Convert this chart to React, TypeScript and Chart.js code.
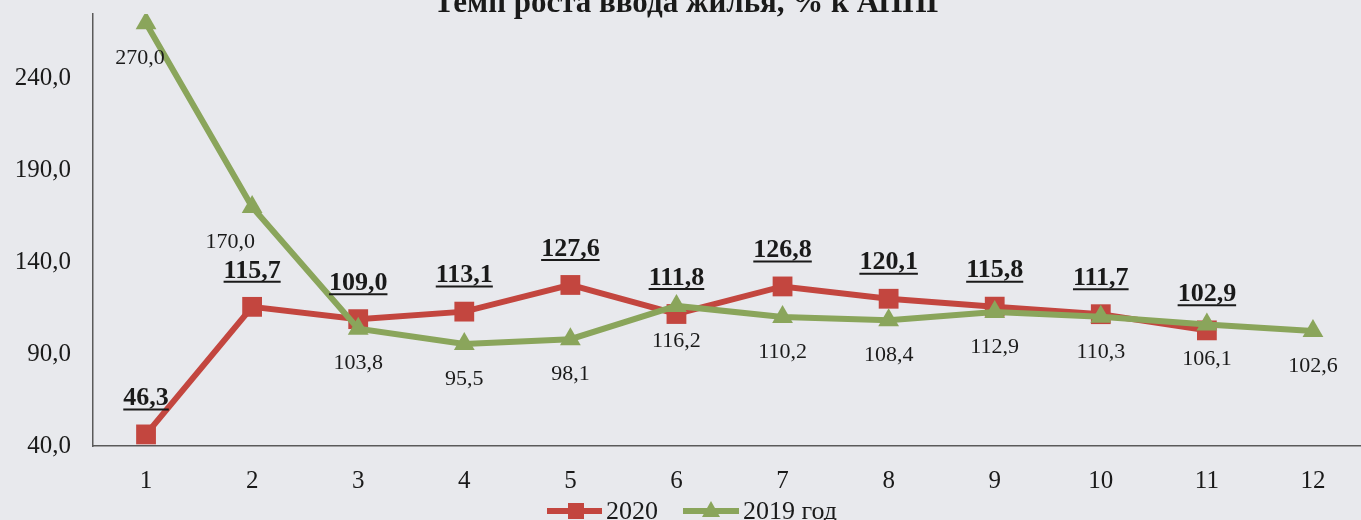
import React, { useEffect, useRef } from "react";
import { Chart, registerables } from "chart.js";

Chart.register(...registerables);

const titleText = "Темп роста ввода жилья, % к АППГ";
const categories = ["1", "2", "3", "4", "5", "6", "7", "8", "9", "10", "11", "12"];
const series2020Label = "2020";
const series2019Label = "2019 год";
const values2020: (number | null)[] = [46.3, 115.7, 109.0, 113.1, 127.6, 111.8, 126.8, 120.1, 115.8, 111.7, 102.9, null];
const values2019: number[] = [270.0, 170.0, 103.8, 95.5, 98.1, 116.2, 110.2, 108.4, 112.9, 110.3, 106.1, 102.6];
const yTicks = [40, 90, 140, 190, 240];

const RED = "#C3463F";
const GREEN = "#8AA55B";
const BG = "#E8E9ED";
const SERIF = '"Liberation Serif", "Times New Roman", serif';

const fmt = (v: number) => v.toFixed(1).replace(".", ",");

const bgPlugin = {
  id: "bgPlugin",
  beforeDraw(chart: any) {
    const ctx = chart.ctx;
    ctx.save();
    ctx.fillStyle = BG;
    ctx.fillRect(0, 0, chart.width, chart.height);
    ctx.restore();
  },
};

const titlePlugin = {
  id: "titlePlugin",
  afterDraw(chart: any) {
    const ctx = chart.ctx;
    ctx.save();
    ctx.font = `bold 31px ${SERIF}`;
    ctx.fillStyle = "#1a1a1a";
    ctx.textAlign = "center";
    ctx.textBaseline = "alphabetic";
    ctx.fillText(titleText, 690, 12);
    ctx.restore();
  },
};

const labelPlugin = {
  id: "labelPlugin",
  afterDatasetsDraw(chart: any) {
    const ctx = chart.ctx;
    ctx.save();
    const m0 = chart.getDatasetMeta(0);
    ctx.font = `bold 26px ${SERIF}`;
    ctx.fillStyle = "#1a1a1a";
    ctx.strokeStyle = "#1a1a1a";
    ctx.textAlign = "center";
    ctx.textBaseline = "middle";
    m0.data.forEach((pt: any, i: number) => {
      const v = values2020[i];
      if (v == null) return;
      const x = pt.x;
      const y = pt.y - 36;
      const t = fmt(v);
      ctx.fillText(t, x, y);
      const w = ctx.measureText(t).width;
      ctx.lineWidth = 2;
      ctx.beginPath();
      ctx.moveTo(x - w / 2, y + 11);
      ctx.lineTo(x + w / 2, y + 11);
      ctx.stroke();
    });
    const m1 = chart.getDatasetMeta(1);
    ctx.font = `22px ${SERIF}`;
    m1.data.forEach((pt: any, i: number) => {
      const v = values2019[i];
      const dx = i === 0 ? -6 : i === 1 ? -22 : 0;
      ctx.fillText(fmt(v), pt.x + dx, pt.y + 35);
    });
    ctx.restore();
  },
};

const legendPlugin = {
  id: "legendPlugin",
  afterDraw(chart: any) {
    const ctx = chart.ctx;
    const y = 511;
    ctx.save();
    ctx.strokeStyle = RED;
    ctx.lineWidth = 6;
    ctx.beginPath();
    ctx.moveTo(547, y);
    ctx.lineTo(602, y);
    ctx.stroke();
    ctx.fillStyle = RED;
    ctx.fillRect(576 - 8, y - 8, 16, 16);
    ctx.strokeStyle = GREEN;
    ctx.beginPath();
    ctx.moveTo(683, y);
    ctx.lineTo(739, y);
    ctx.stroke();
    ctx.fillStyle = GREEN;
    ctx.beginPath();
    ctx.moveTo(711, y - 10);
    ctx.lineTo(720, y + 6);
    ctx.lineTo(702, y + 6);
    ctx.closePath();
    ctx.fill();
    ctx.font = `26px ${SERIF}`;
    ctx.fillStyle = "#1a1a1a";
    ctx.textAlign = "left";
    ctx.textBaseline = "middle";
    ctx.fillText(series2020Label, 606, y + 1);
    ctx.fillText(series2019Label, 743, y + 1);
    ctx.restore();
  },
};

export default function App() {
  const ref = useRef<HTMLCanvasElement | null>(null);
  useEffect(() => {
    if (!ref.current) return;
    const chart = new Chart(ref.current, {
      type: "line",
      data: {
        labels: categories,
        datasets: [
          {
            label: series2020Label,
            data: values2020,
            borderColor: RED,
            backgroundColor: RED,
            borderWidth: 6,
            pointStyle: "rect",
            pointRadius: 14,
            pointBorderWidth: 0,
            pointBackgroundColor: RED,
            tension: 0,
            order: 1,
          },
          {
            label: series2019Label,
            data: values2019,
            borderColor: GREEN,
            backgroundColor: GREEN,
            borderWidth: 6,
            pointStyle: "triangle",
            pointRadius: 12,
            pointBorderWidth: 0,
            pointBackgroundColor: GREEN,
            tension: 0,
            order: 0,
          },
        ],
      },
      options: {
        responsive: false,
        animation: false,
        devicePixelRatio: 1,
        layout: { padding: { top: 12, right: 9, left: 0, bottom: 0 } },
        plugins: {
          legend: { display: false },
          title: { display: false },
          tooltip: { enabled: false },
        },
        scales: {
          x: {
            type: "category",
            offset: true,
            grid: { display: false, drawTicks: false },
            border: { display: true, color: "#5a5a5a", width: 1.5 },
            ticks: {
              padding: 20,
              color: "#1a1a1a",
              font: { family: SERIF, size: 25 },
              maxRotation: 0,
            },
            afterFit(scale: any) {
              scale.height = 74;
              scale.paddingLeft = 0;
              scale.paddingRight = 0;
            },
          },
          y: {
            type: "linear",
            min: 40,
            max: 275,
            grid: { display: false, drawTicks: false },
            border: { display: true, color: "#5a5a5a", width: 1.5 },
            ticks: {
              padding: 22,
              color: "#1a1a1a",
              font: { family: SERIF, size: 25 },
              callback: (v: any) => fmt(Number(v)),
            },
            afterBuildTicks(scale: any) {
              scale.ticks = yTicks.map((v) => ({ value: v }));
            },
            afterFit(scale: any) {
              scale.width = 93;
              scale.paddingTop = 0;
              scale.paddingBottom = 0;
            },
          },
        },
      },
      plugins: [bgPlugin, labelPlugin, titlePlugin, legendPlugin],
    });
    return () => chart.destroy();
  }, []);
  return (
    <div
      style={{
        position: "fixed",
        left: 0,
        top: 0,
        width: 1361,
        height: 520,
        overflow: "hidden",
        background: BG,
      }}
    >
      <canvas ref={ref} width={1380} height={520} style={{ display: "block" }} />
    </div>
  );
}
